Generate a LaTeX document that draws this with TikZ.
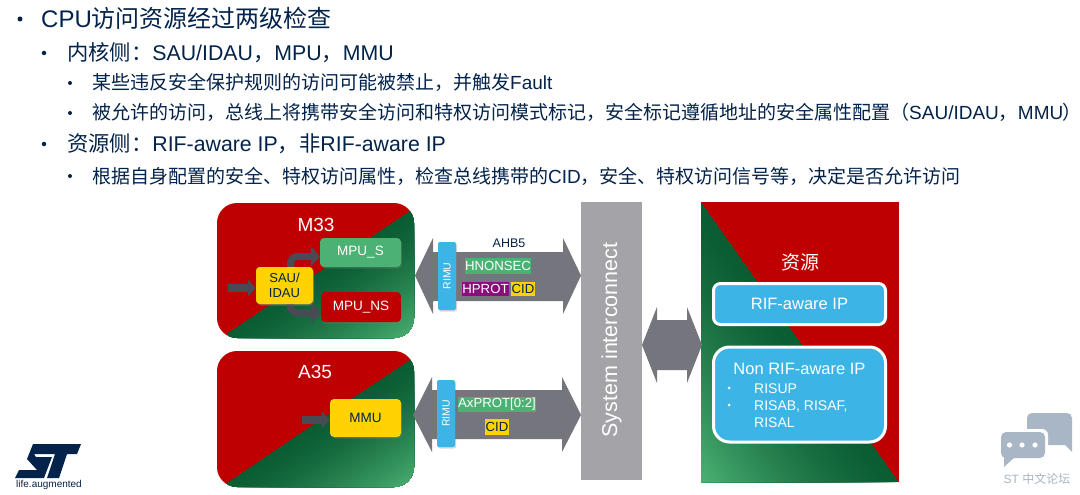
\documentclass[tikz,border=0pt]{standalone}
\usepackage{fontspec}
\setmainfont{Liberation Sans}
\newfontfamily\cjk{Noto Sans CJK SC}
\newfontfamily\cjkp[RawFeature=+palt]{Noto Sans CJK SC}
\usetikzlibrary{arrows.meta,shadows,calc}
\definecolor{navy}{HTML}{03234B}
\definecolor{cred}{HTML}{BE0000}
\definecolor{gdark}{HTML}{0A5C33}
\definecolor{glight}{HTML}{4CB273}
\definecolor{cyel}{HTML}{FFD200}
\definecolor{cblue}{HTML}{3CB4E6}
\definecolor{cpur}{HTML}{8C0C7E}
\definecolor{busg}{HTML}{75757D}
\definecolor{icg}{HTML}{A3A3A8}
\definecolor{arrg}{HTML}{4A4A55}
\definecolor{chatg}{HTML}{A9B6C6}
\tikzset{
  softshadow/.style={drop shadow={opacity=.3,shadow xshift=1pt,shadow yshift=-1.5pt}},
  line1/.style={anchor=base west,text=navy,font=\fontsize{24}{26}\selectfont,inner sep=0pt},
  line2/.style={anchor=base west,text=navy,font=\fontsize{21.3}{24}\selectfont,inner sep=0pt},
  line3/.style={anchor=base west,text=navy,font=\fontsize{19}{22}\selectfont,inner sep=0pt},
  bul/.style={circle,fill=navy,inner sep=0pt},
  mbox/.style={rounded corners=4pt,minimum width=#1,inner sep=0pt,align=center,softshadow},
  rimu/.style={fill=cblue,rounded corners=2pt,minimum width=68pt,minimum height=18pt,inner sep=0pt,rotate=90,text=white,font=\fontsize{10.5}{12}\selectfont,softshadow},
  tag/.style={inner sep=0pt,font=\fontsize{13.2}{16}\selectfont},
  busarrow/.style={fill=busg},
  blockarrow/.style={draw=arrg,line width=7pt,-{Triangle[width=20pt,length=9pt]}},
  shortarrow/.style={draw=arrg,line width=8pt,-{Triangle[width=17pt,length=8pt]}},
  ipbox/.style={fill=cblue,draw=white,line width=3pt,inner sep=0pt,text=white,softshadow},
}
\newcommand\gradsweep[4]{%
  \foreach \i in {0,...,49}{%
    \pgfmathsetmacro\tt{\i/49}%
    \pgfmathsetmacro\pp{100*\tt^1.4}%
    \pgfmathsetmacro\ax{#1+\tt*(#3-#1)}%
    \pgfmathsetmacro\ay{#2+\tt*(#4-#2)}%
    \pgfmathsetmacro\dx{#3-#1}%
    \pgfmathsetmacro\dy{#4-#2}%
    \fill[glight!\pp!gdark]
      (\ax-3*\dy,\ay+3*\dx) -- (\ax+3*\dy,\ay-3*\dx)
      -- (\ax+3*\dy+3*\dx,\ay-3*\dx+3*\dy) -- (\ax-3*\dy+3*\dx,\ay+3*\dx+3*\dy) -- cycle;
  }%
}
\begin{document}
\begin{tikzpicture}[x=1pt,y=-1pt]
\useasboundingbox (0,0) rectangle (1080,495);
\fill[white] (0,0) rectangle (1080,495);

% ---- text block
\node[bul,minimum size=5pt] (b1) at (20,19) {};
\node[line1] (t1) at (41,27.5) {CPU{\cjk 访问资源经过两级检查}};
\node[bul,minimum size=4.5pt] (b2) at (44,53) {};
\node[line2] (t2) at (67,60.5) {{\cjk 内核侧：}SAU/IDAU{\cjk ，}MPU{\cjk ，}MMU};
\node[bul,minimum size=4pt] (b3) at (70,83) {};
\node[line3] (t3) at (92,90) {{\cjk 某些违反安全保护规则的访问可能被禁止，并触发}Fault};
\node[bul,minimum size=4pt] (b4) at (70,113) {};
\node[line3] (t4) at (92,120) {{\cjk 被允许的访问，总线上将携带安全访问和特权访问模式标记，安全标记遵循地址的安全属性配置（}SAU/IDAU{\cjk ，}MMU{\cjkp ）}};
\node[bul,minimum size=4.5pt] (b5) at (44,144) {};
\node[line2] (t5) at (67,151.5) {{\cjk 资源侧：}RIF-aware IP{\cjk ，非}RIF-aware IP};
\node[bul,minimum size=4pt] (b6) at (70,176) {};
\node[line3] (t6) at (92,183) {{\cjk 根据自身配置的安全、特权访问属性，检查总线携带的}CID{\cjk ，安全、特权访问信号等，决定是否允许访问}};

% ---- M33 card
\begin{scope}
  \clip[rounded corners=20pt] (217,203) rectangle (414,338);
  \fill[cred] (217,203) rectangle (414,338);
  \begin{scope}
    \clip (228,333) -- (413,209) -- (500,209) -- (500,400) -- (228,400) -- cycle;
    \gradsweep{320}{271}{380}{361}
  \end{scope}
\end{scope}
% ---- A35 card
\begin{scope}
  \clip[rounded corners=20pt] (217,351) rectangle (414,487);
  \fill[cred] (217,351) rectangle (414,487);
  \begin{scope}
    \clip (227,483) -- (412,358) -- (500,358) -- (500,550) -- (227,550) -- cycle;
    \gradsweep{320}{420}{380}{510}
  \end{scope}
\end{scope}
% ---- resource panel
\begin{scope}
  \clip (701,202) rectangle (899,482);
  \fill[cred] (701,202) rectangle (899,482);
  \begin{scope}
    \clip (701,202) -- (899,482) -- (701,482) -- cycle;
    \gradsweep{800}{342}{668}{435}
  \end{scope}
\end{scope}

% ---- M33 content
\node[text=white,font=\fontsize{19}{20}\selectfont,inner sep=0pt] (m33) at (316,225) {M33};
\node[mbox=81pt,fill=glight,minimum height=29pt,text=white,font=\fontsize{13.5}{15}\selectfont] (mpus) at (360.5,252.5) {MPU\_S};
\node[mbox=80pt,fill=cred,minimum height=30pt,text=white,font=\fontsize{13.5}{15}\selectfont] (mpuns) at (361,307) {MPU\_NS};
\coordinate (sauin) at (228,288);
\node[mbox=57pt,fill=cyel,minimum height=37pt,text=navy,font=\fontsize{13}{15.5}\selectfont] (sau) at (284.5,285.5) {SAU/\\IDAU};
\draw[shortarrow] (sauin) -- ([yshift=-2.5pt]sau.west);
\draw[blockarrow,rounded corners=7pt] ([xshift=6pt]sau.north) |- ([yshift=-4pt]mpus.west);
\draw[blockarrow,rounded corners=7pt] ([xshift=6pt]sau.south) |- ([yshift=-6pt]mpuns.west);
\node[mbox=57pt,fill=cyel,minimum height=37pt,text=navy,font=\fontsize{13}{15.5}\selectfont] at (sau) {SAU/\\IDAU};

% ---- A35 content
\node[text=white,font=\fontsize{19}{20}\selectfont,inner sep=0pt] (a35) at (315,372) {A35};
\coordinate (mmuin) at (302,420);
\node[mbox=71pt,fill=cyel,minimum height=38pt,text=navy,font=\fontsize{13.5}{15}\selectfont] (mmu) at (365.5,418) {MMU};
\draw[shortarrow] (mmuin) -- ([yshift=-2pt]mmu.west);

% ---- buses
\fill[busarrow] (415,275.5) -- (433,238) -- (433,252) -- (563,252) -- (563,238) -- (581,275.5) -- (563,314) -- (563,301) -- (433,301) -- (433,314) -- cycle;
\fill[busarrow] (413,415) -- (432,377) -- (432,390) -- (562,390) -- (562,377) -- (581,415) -- (562,452) -- (562,439) -- (432,439) -- (432,452) -- cycle;
\fill[busarrow] (642,345) -- (657,307) -- (657,320) -- (687,320) -- (687,307) -- (702,345) -- (687,383) -- (687,370) -- (657,370) -- (657,383) -- cycle;

\node[rimu] (rimu1) at (447,276) {RIMU};
\node[rimu,minimum width=67pt] (rimu2) at (446,413.5) {RIMU};

\node[text=navy,font=\fontsize{12.5}{14}\selectfont,inner sep=0pt] (ahb) at (509,243) {AHB5};
\node[tag,fill=glight,text=white,minimum width=66pt,minimum height=16pt] (hn) at (498,266) {HNONSEC};
\node[tag,fill=cpur,text=white,minimum width=47pt,minimum height=14pt] (hp) at (485.5,289) {HPROT};
\node[tag,fill=cyel,text=navy,minimum width=24pt,minimum height=14pt] (c1) at (523,289) {CID};
\node[tag,fill=glight,text=white,minimum width=78pt,minimum height=15pt] (ax) at (497,404.5) {AxPROT[0:2]};
\node[tag,fill=cyel,text=navy,minimum width=24pt,minimum height=16pt] (c2) at (497,427) {CID};

% ---- interconnect
\fill[icg] (581,202) rectangle (642,480);
\node[rotate=90,text=white,font=\fontsize{21.5}{24}\selectfont,inner sep=0pt] (sys) at (611.5,340) {System interconnect};

% ---- resources
\node[text=white,font=\fontsize{19}{20}\selectfont\cjk,inner sep=0pt] (res) at (800,262) {资源};
\node[ipbox,rounded corners=7pt,minimum width=172pt,minimum height=41pt,font=\fontsize{16.5}{18}\selectfont] (rif) at (799.5,304) {RIF-aware IP};
\node[ipbox,rounded corners=16pt,minimum width=172pt,minimum height=95pt] (nonrif) at (799.5,394.5) {};
\node[text=white,font=\fontsize{16.5}{18}\selectfont,inner sep=0pt] (nt) at (799.5,369) {Non RIF-aware IP};
\node[circle,fill=white,inner sep=0pt,minimum size=3pt] (n1) at (729,388) {};
\node[anchor=base west,text=white,font=\fontsize{14}{15}\selectfont,inner sep=0pt] (r1) at (754,393) {RISUP};
\node[circle,fill=white,inner sep=0pt,minimum size=3pt] (n2) at (729,405) {};
\node[anchor=base west,text=white,font=\fontsize{14}{15}\selectfont,inner sep=0pt] (r2) at (754,410) {RISAB, RISAF,};
\node[anchor=base west,text=white,font=\fontsize{14}{15}\selectfont,inner sep=0pt] (r3) at (754,427) {RISAL};

% ---- ST logo
\fill[navy] (33,444) -- (81,444) -- (77,454) -- (67,454) -- (59,478) -- (47,478) -- (55,454) -- (34,454) -- (36,457) -- (52,457) -- (44,478) -- (15,478) -- (19,470) -- (37,470) -- (27,459) -- cycle;
\node[text=navy,font=\fontsize{10}{10}\selectfont,inner sep=0pt] (st) at (49,485) {life.augmented};

% ---- chat icon
\fill[chatg,rounded corners=5pt] (1027,413) -- (1072,413) -- (1072,445) -- (1027,445) -- cycle;
\fill[chatg] (1060,440) -- (1072,440) -- (1072,452) -- cycle;
\fill[white,rounded corners=6pt] (999,429) -- (1048,429) -- (1048,461) -- (999,461) -- cycle;
\fill[chatg,rounded corners=5pt] (1001,432) -- (1045,432) -- (1045,458) -- (1001,458) -- cycle;
\fill[chatg] (1004,456) -- (1004,467) -- (1016,456) -- cycle;
\foreach \xx in {1009.5,1022,1035}{\fill[white] (\xx,445) circle (2.6pt);}
\node[text=chatg,font=\fontsize{12}{13}\selectfont,inner sep=0pt] (lab) at (1037,479) {ST {\cjk 中文论坛}};
\end{tikzpicture}
\end{document}
